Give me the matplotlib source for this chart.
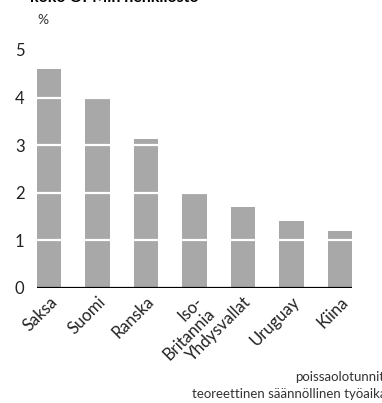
import matplotlib
matplotlib.use("Agg")
import matplotlib.pyplot as plt

plt.rcParams['font.family'] = ['Lato', 'DejaVu Sans']

categories = ["Saksa", "Suomi", "Ranska", "Iso-\nBritannia", "Yhdysvallat", "Uruguay", "Kiina"]
values = [4.6, 4.0, 3.13, 1.98, 1.7, 1.41, 1.2]
yticks = [0, 1, 2, 3, 4, 5]

W, H = 382, 403
fig = plt.figure(figsize=(W / 100, H / 100), dpi=100)
ax = fig.add_axes([37 / W, (H - 288) / H, 315 / W, 238 / H])

x = list(range(len(categories)))
ax.bar(x, values, width=0.5, color="#a8a8a8", zorder=2)
for t in yticks[1:]:
    ax.axhline(t, color="white", lw=1.6, zorder=3)
ax.axhline(0, color="black", lw=1.6, zorder=4)

ax.set_xlim(-0.25, 6.25)
ax.set_ylim(0, 5)
ax.set_yticks(yticks)
ax.set_yticklabels([str(t) for t in yticks], fontsize=12, color="#222222")
ax.tick_params(axis="y", length=0, pad=9)
ax.set_xticks(x)
ax.set_xticklabels(categories, rotation=45, ha="right", rotation_mode="anchor",
                   fontsize=12, color="#222222", multialignment="right",
                   linespacing=1.1)
ax.tick_params(axis="x", length=0, pad=4)
for s in ax.spines.values():
    s.set_visible(False)

fig.text(37 / W, 1 - 20 / H, "%", fontsize=10, color="#333333", va="center")
fig.text(30 / W, 1 + 2 / H, "koko OPM:n henkilöstö", fontsize=11.5, fontweight="bold",
         va="center", ha="left")
fig.text(295 / W, 1 - 377 / H, "poissaolotunnit", fontsize=9.5, color="#333333", va="center")
fig.text(192 / W, 1 - 394 / H, "teoreettinen säännöllinen työaika", fontsize=9.5,
         color="#333333", va="center")

fig.savefig("out.png", dpi=100)
